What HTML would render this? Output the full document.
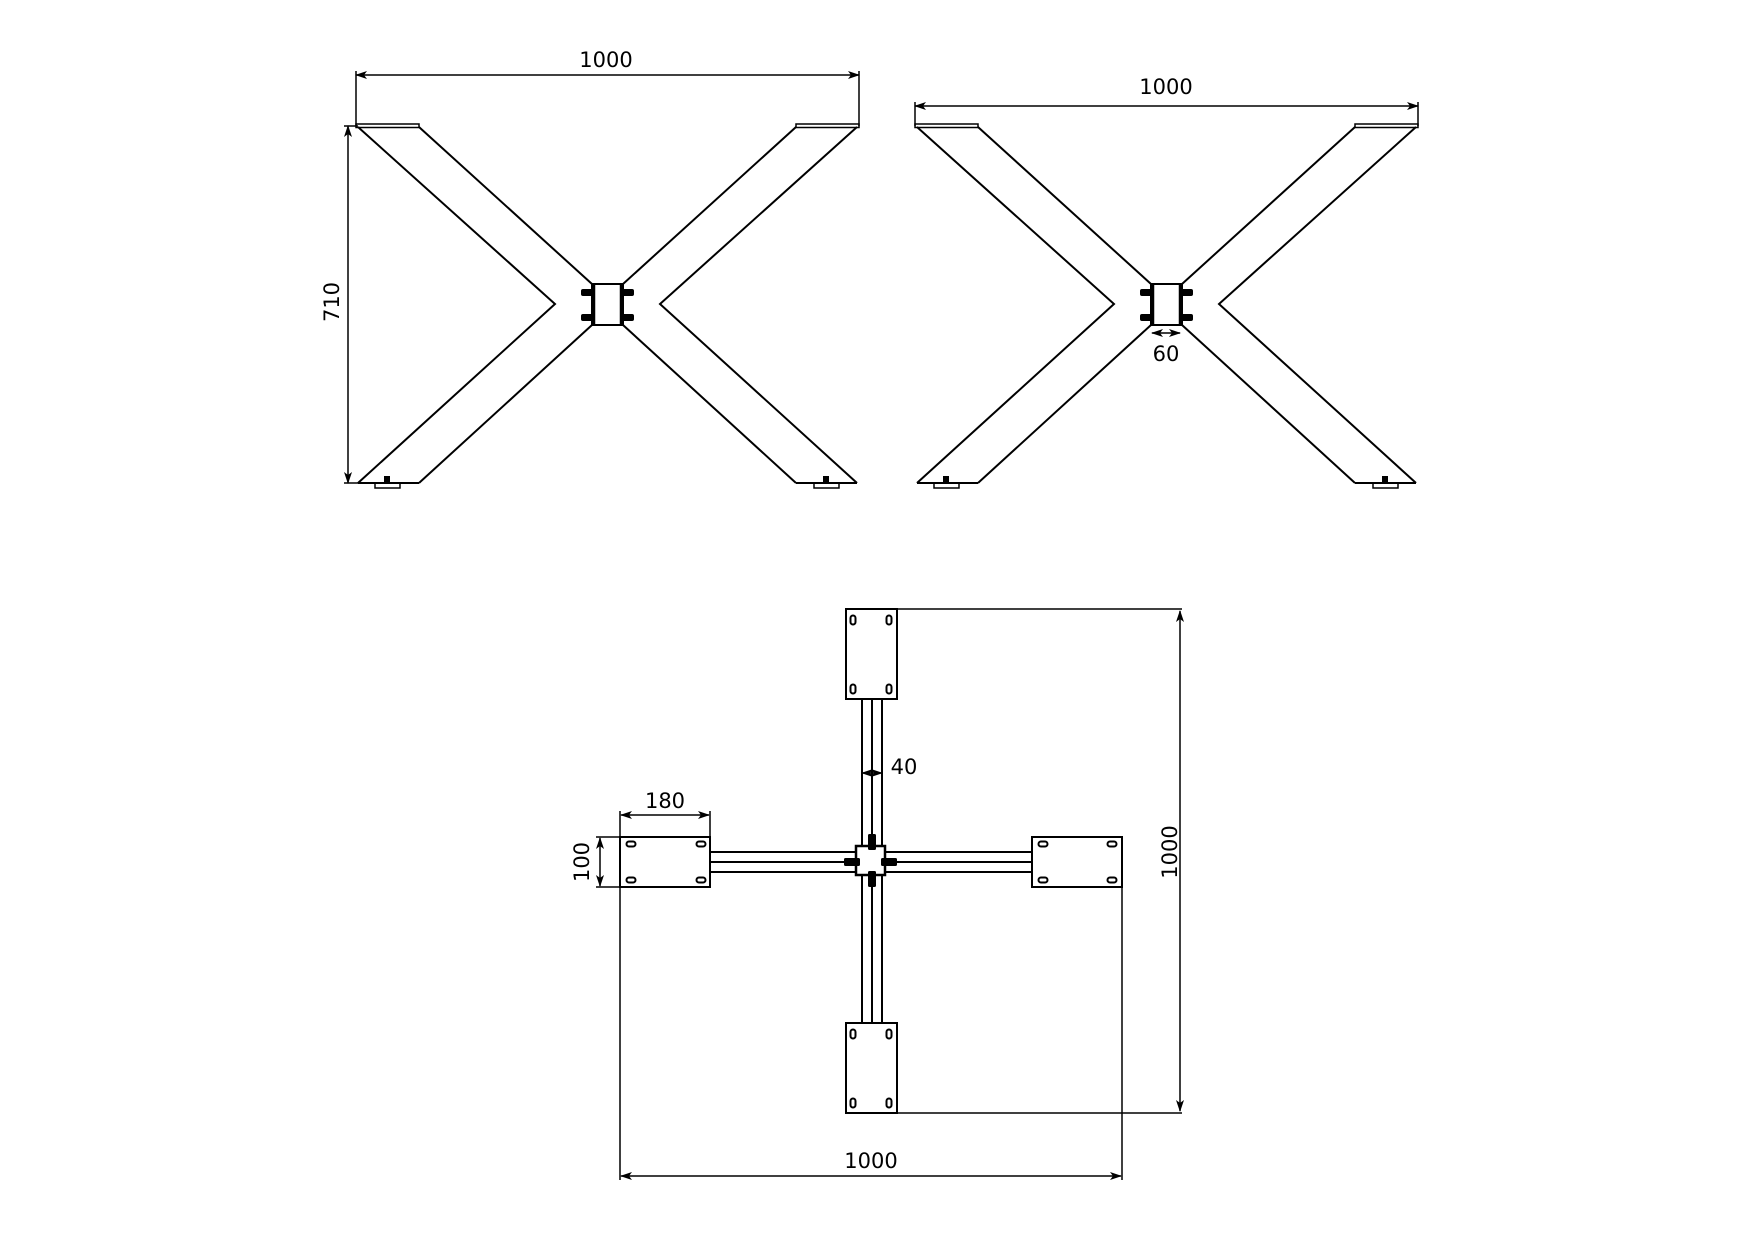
<!DOCTYPE html>
<html><head><meta charset="utf-8"><style>
html,body{margin:0;padding:0;background:#fff;}
svg{display:block;}
text{font-family:"DejaVu Sans","Liberation Sans",sans-serif;font-size:21px;fill:#000;}
</style></head><body>
<svg width="1754" height="1240" viewBox="0 0 1754 1240" xmlns="http://www.w3.org/2000/svg">
<defs>
<marker id="a" viewBox="0 0 12 8" refX="11" refY="4" markerWidth="12" markerHeight="8" orient="auto-start-reverse" markerUnits="userSpaceOnUse">
<path d="M0,0 L12,4 L0,8 L3,4 z" fill="#000"/></marker>
<g id="leg" fill="none" stroke="#000" stroke-width="2">
  <rect x="356" y="124" width="63" height="3.5" stroke-width="1.5"/>
  <rect x="796" y="124" width="63" height="3.5" stroke-width="1.5"/>
  <polyline points="358,127 555,304 358,483"/>
  <line x1="419" y1="127" x2="592" y2="284"/>
  <line x1="592" y1="325" x2="419" y2="483"/>
  <polyline points="857,127 660,304 857,483"/>
  <line x1="796" y1="127" x2="623" y2="284"/>
  <line x1="623" y1="325" x2="796" y2="483"/>
  <line x1="358" y1="483" x2="419" y2="483"/>
  <line x1="796" y1="483" x2="857" y2="483"/>
  <rect x="592" y="284" width="31" height="41"/>
  <line x1="593.5" y1="284" x2="593.5" y2="325" stroke-width="3.5"/>
  <line x1="621.5" y1="284" x2="621.5" y2="325" stroke-width="3.5"/>
  <rect x="375" y="483" width="25" height="5" stroke-width="1.5"/>
  <rect x="814" y="483" width="25" height="5" stroke-width="1.5"/>
  <g fill="#000" stroke="none">
    <rect x="581" y="289" width="14" height="7" rx="2"/>
    <rect x="581" y="314" width="14" height="7" rx="2"/>
    <rect x="620" y="289" width="14" height="7" rx="2"/>
    <rect x="620" y="314" width="14" height="7" rx="2"/>
    <rect x="384" y="476" width="6" height="7"/>
    <rect x="823" y="476" width="6" height="7"/>
  </g>
</g>
<g id="holesV" fill="none" stroke="#000" stroke-width="2">
  <rect x="-2.5" y="-4.5" width="5" height="9" rx="2.5"/>
</g>
<g id="holesH" fill="none" stroke="#000" stroke-width="2">
  <rect x="-4.5" y="-2.5" width="9" height="5" rx="2.5"/>
</g>
</defs>

<!-- Leg 1 -->
<use href="#leg"/>
<g stroke="#000" stroke-width="1.5" fill="none">
  <line x1="356" y1="75" x2="859" y2="75" marker-start="url(#a)" marker-end="url(#a)"/>
  <line x1="356" y1="71" x2="356" y2="126"/>
  <line x1="859" y1="71" x2="859" y2="126"/>
  <line x1="348" y1="126" x2="348" y2="483" marker-start="url(#a)" marker-end="url(#a)"/>
  <line x1="344" y1="126" x2="358" y2="126"/>
  <line x1="344" y1="483" x2="358" y2="483"/>
</g>
<text x="606" y="67" text-anchor="middle">1000</text>
<text transform="translate(339,302) rotate(-90)" text-anchor="middle">710</text>

<!-- Leg 2 -->
<use href="#leg" transform="translate(559,0)"/>
<g stroke="#000" stroke-width="1.5" fill="none">
  <line x1="915" y1="106" x2="1418" y2="106" marker-start="url(#a)" marker-end="url(#a)"/>
  <line x1="915" y1="102" x2="915" y2="126"/>
  <line x1="1418" y1="102" x2="1418" y2="126"/>
  <line x1="1152" y1="333" x2="1180" y2="333" marker-start="url(#a)" marker-end="url(#a)"/>
</g>
<text x="1166" y="94" text-anchor="middle">1000</text>
<text x="1166" y="361" text-anchor="middle">60</text>

<!-- Plan view -->
<g fill="none" stroke="#000" stroke-width="2">
  <!-- bars -->
  <line x1="862" y1="699" x2="862" y2="846"/><line x1="872" y1="699" x2="872" y2="846"/><line x1="882" y1="699" x2="882" y2="846"/>
  <line x1="862" y1="875" x2="862" y2="1023"/><line x1="872" y1="875" x2="872" y2="1023"/><line x1="882" y1="875" x2="882" y2="1023"/>
  <line x1="710" y1="852" x2="856" y2="852"/><line x1="710" y1="862" x2="856" y2="862"/><line x1="710" y1="872" x2="856" y2="872"/>
  <line x1="885" y1="852" x2="1032" y2="852"/><line x1="885" y1="862" x2="1032" y2="862"/><line x1="885" y1="872" x2="1032" y2="872"/>
  <rect x="856" y="846" width="29" height="29" stroke-width="2.5" fill="#fff"/>
  <!-- pads -->
  <rect x="846" y="609" width="51" height="90" fill="#fff"/>
  <rect x="846" y="1023" width="51" height="90" fill="#fff"/>
  <rect x="620" y="837" width="90" height="50" fill="#fff"/>
  <rect x="1032" y="837" width="90" height="50" fill="#fff"/>
</g>
<g fill="#000">
  <rect x="868" y="834" width="8" height="16" rx="1.5"/>
  <rect x="868" y="871" width="8" height="16" rx="1.5"/>
  <rect x="844" y="858" width="16" height="8" rx="1.5"/>
  <rect x="881" y="858" width="16" height="8" rx="1.5"/>
</g>
<use href="#holesV" x="853" y="620"/><use href="#holesV" x="889" y="620"/>
<use href="#holesV" x="853" y="689"/><use href="#holesV" x="889" y="689"/>
<use href="#holesV" x="853" y="1034"/><use href="#holesV" x="889" y="1034"/>
<use href="#holesV" x="853" y="1103"/><use href="#holesV" x="889" y="1103"/>
<use href="#holesH" x="631" y="844"/><use href="#holesH" x="701" y="844"/>
<use href="#holesH" x="631" y="880"/><use href="#holesH" x="701" y="880"/>
<use href="#holesH" x="1043" y="844"/><use href="#holesH" x="1112" y="844"/>
<use href="#holesH" x="1043" y="880"/><use href="#holesH" x="1112" y="880"/>

<g stroke="#000" stroke-width="1.5" fill="none">
  <line x1="897" y1="609" x2="1182" y2="609"/>
  <line x1="897" y1="1113" x2="1182" y2="1113"/>
  <line x1="1180" y1="611" x2="1180" y2="1111" marker-start="url(#a)" marker-end="url(#a)"/>
  <line x1="620" y1="887" x2="620" y2="1180"/>
  <line x1="1122" y1="887" x2="1122" y2="1180"/>
  <line x1="621" y1="1176" x2="1121" y2="1176" marker-start="url(#a)" marker-end="url(#a)"/>
  <line x1="620" y1="811" x2="620" y2="837"/>
  <line x1="710" y1="811" x2="710" y2="837"/>
  <line x1="621" y1="815" x2="709" y2="815" marker-start="url(#a)" marker-end="url(#a)"/>
  <line x1="596" y1="837" x2="620" y2="837"/>
  <line x1="596" y1="887" x2="620" y2="887"/>
  <line x1="600" y1="838" x2="600" y2="886" marker-start="url(#a)" marker-end="url(#a)"/>
  <line x1="862" y1="773" x2="882" y2="773" marker-start="url(#a)" marker-end="url(#a)"/>
</g>
<text x="871" y="1168" text-anchor="middle">1000</text>
<text transform="translate(1177,852) rotate(-90)" text-anchor="middle">1000</text>
<text x="665" y="808" text-anchor="middle">180</text>
<text transform="translate(589,862) rotate(-90)" text-anchor="middle">100</text>
<text x="904" y="774" text-anchor="middle">40</text>
</svg>
</body></html>
